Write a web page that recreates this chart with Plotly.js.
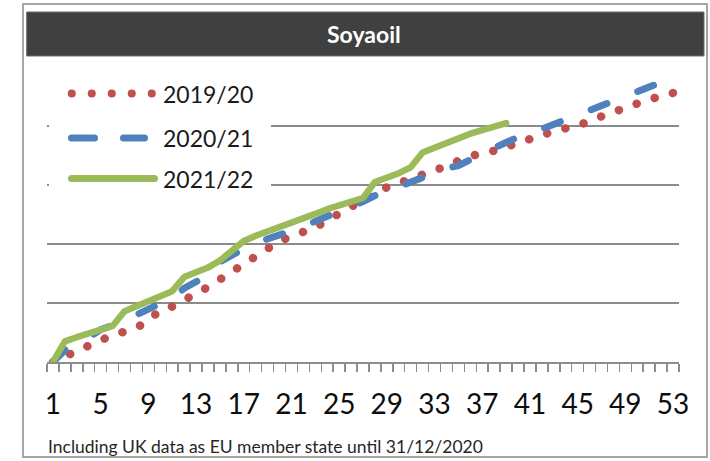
<!DOCTYPE html>
<html>
<head>
<meta charset="utf-8">
<script src="https://cdn.plot.ly/plotly-3.0.1.min.js"></script>
<style>
  html, body { margin: 0; padding: 0; background: #ffffff; }
  #chart { width: 710px; height: 461px; }
  .js-line { stroke-linecap: round !important; stroke-linejoin: round !important; }
  .shapelayer path { stroke-linecap: round !important; }
</style>
</head>
<body>
<div id="chart"></div>
<script>
// ---- data (y in gridline units) ----
const chartTitle = "Soyaoil";
const footnote = "Including UK data as EU member state until 31/12/2020";
const weeks = [1,2,3,4,5,6,7,8,9,10,11,12,13,14,15,16,17,18,19,20,21,22,23,24,25,26,27,28,29,30,31,32,33,34,35,36,37,38,39,40,41,42,43,44,45,46,47,48,49,50,51,52,53];
const tickWeeks = [1,5,9,13,17,21,25,29,33,37,41,45,49,53];
const tickLabels = ["1","5","9","13","17","21","25","29","33","37","41","45","49","53"];
const seriesNames = ["2019/20", "2020/21", "2021/22"];
const s2019 = [0.00,0.10,0.19,0.28,0.37,0.45,0.51,0.58,0.70,0.88,0.94,1.04,1.14,1.27,1.40,1.53,1.66,1.78,1.92,2.05,2.13,2.20,2.28,2.40,2.52,2.66,2.74,2.86,2.96,3.03,3.10,3.16,3.22,3.32,3.41,3.49,3.55,3.58,3.65,3.73,3.79,3.85,3.91,3.96,4.00,4.09,4.17,4.25,4.31,4.38,4.45,4.52,4.56];
const s2020 = [0.00,0.20,0.28,0.42,0.55,0.62,0.74,0.80,0.90,0.99,1.06,1.25,1.36,1.45,1.70,1.82,1.92,2.02,2.08,2.15,2.22,2.30,2.38,2.46,2.56,2.62,2.72,2.82,2.90,2.98,3.05,3.14,3.22,3.28,3.33,3.44,3.54,3.63,3.72,3.82,3.90,3.95,4.03,4.13,4.19,4.26,4.35,4.44,4.50,4.60,4.68,4.74,4.76];
const s2021 = [0.00,0.35,0.42,0.48,0.55,0.61,0.86,0.95,1.04,1.14,1.20,1.44,1.52,1.60,1.72,1.88,2.05,2.14,2.21,2.28,2.35,2.43,2.51,2.59,2.66,2.72,2.78,3.05,3.12,3.20,3.30,3.55,3.63,3.71,3.80,3.87,3.93,3.99,4.05];
const gridLevels = [1,2,3,4,5];

// ---- styles ----
const FONT = "Lato, Carlito, Calibri, 'Open Sans', sans-serif";
const RED = "#c0504d", BLUE = "#4f81bd", GREEN = "#9bbb59", GRID = "#8c8c8c";
const W = 710, H = 461;
const M = {l: 47, r: 31, t: 67, b: 99};
const PW = W - M.l - M.r, PH = H - M.t - M.b;
const px = x => (x - M.l) / PW;
const py = y => (H - M.b - y) / PH;

const traces = [
  {x: weeks.slice(0, s2019.length), y: s2019, name: seriesNames[0], mode: "lines",
   line: {color: RED, width: 8.5, dash: "0.1px,18.8px"}},
  {x: weeks.slice(0, s2020.length), y: s2020, name: seriesNames[1], mode: "lines",
   line: {color: BLUE, width: 7, dash: "17px,33px"}},
  {x: weeks.slice(0, s2021.length), y: s2021, name: seriesNames[2], mode: "lines",
   line: {color: GREEN, width: 6.5}}
];

const shapes = [
  // outer frame
  {type: "rect", xref: "paper", yref: "paper", x0: px(23), x1: px(707), y0: py(4), y1: py(457),
   line: {color: "#a6a6a6", width: 2}, fillcolor: "rgba(0,0,0,0)", layer: "above"},
  // title bar
  {type: "rect", xref: "paper", yref: "paper", x0: px(27), x1: px(704), y0: py(12), y1: py(56),
   line: {color: "#6e6e6e", width: 1}, fillcolor: "#404040", layer: "above"},
  // legend box (white, hides gridlines)
  {type: "rect", xref: "paper", yref: "paper", x0: px(49), x1: px(271), y0: py(74), y1: py(205),
   line: {width: 0}, fillcolor: "#ffffff", layer: "above"},
  // legend samples
  {type: "line", xref: "paper", yref: "paper", x0: px(71.7), x1: px(152), y0: py(93.5), y1: py(93.5),
   line: {color: RED, width: 8, dash: "0.1px,19.9px"}, layer: "above"},
  {type: "line", xref: "paper", yref: "paper", x0: px(71.5), x1: px(144.5), y0: py(138), y1: py(138),
   line: {color: BLUE, width: 7, dash: "23px,29px"}, layer: "above"},
  {type: "line", xref: "paper", yref: "paper", x0: px(71.5), x1: px(154.5), y0: py(178.5), y1: py(178.5),
   line: {color: GREEN, width: 7}, layer: "above"}
];

const legendY = [93.5, 138, 178.5];
const annotations = [
  {xref: "paper", yref: "paper", x: px(364), y: py(34), text: "<b>" + chartTitle + "</b>", showarrow: false,
   xanchor: "center", yanchor: "middle", font: {family: FONT, size: 23, color: "#ffffff"}},
  {xref: "paper", yref: "paper", x: px(46), y: py(446), text: footnote, showarrow: false,
   xanchor: "left", yanchor: "middle", font: {family: FONT, size: 17.5, color: "#262626"}}
].concat(seriesNames.map((n, i) => ({
  xref: "paper", yref: "paper", x: px(161), y: py(legendY[i]), text: n, showarrow: false,
  xanchor: "left", yanchor: "middle", font: {family: FONT, size: 23, color: "#1a1a1a"}
})));

const layout = {
  width: W, height: H,
  margin: M,
  paper_bgcolor: "#ffffff", plot_bgcolor: "#ffffff",
  showlegend: false,
  font: {family: FONT},
  xaxis: {
    range: [0.5, 53.5], tickmode: "array", tickvals: tickWeeks, ticktext: tickLabels,
    ticks: "", showgrid: false, zeroline: false,
    showline: true, linecolor: GRID, linewidth: 2,
    ticklabelstandoff: 16,
    tickfont: {family: FONT, size: 28, color: "#0d0d0d"},
    minor: {ticks: "outside", tickmode: "linear", tick0: 0.5, dtick: 1, ticklen: 8,
            tickcolor: GRID, tickwidth: 1.5, showgrid: false},
    fixedrange: true
  },
  yaxis: {
    range: [0, 5], tickmode: "array", tickvals: gridLevels, showticklabels: false,
    ticks: "", showgrid: true, gridcolor: GRID, gridwidth: 2, zeroline: false, showline: false,
    fixedrange: true
  },
  shapes: shapes,
  annotations: annotations
};

Plotly.newPlot("chart", traces, layout, {displayModeBar: false, staticPlot: true});
</script>
</body>
</html>
